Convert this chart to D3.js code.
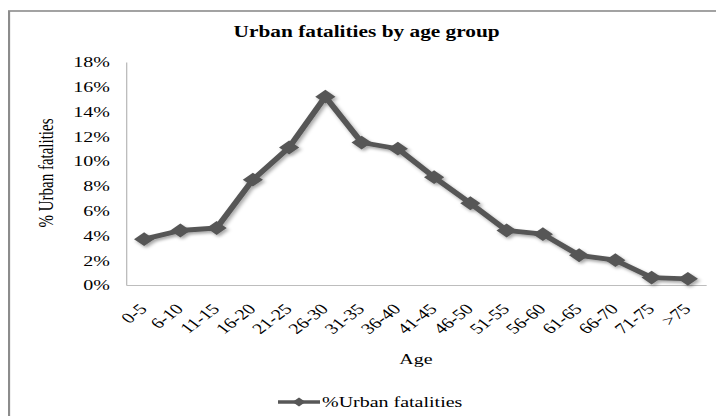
<!DOCTYPE html>
<html>
<head>
<meta charset="utf-8">
<script src="https://cdn.jsdelivr.net/npm/d3@7/dist/d3.min.js"></script>
<style>
  body { margin: 0; background: #fff; }
  svg text { font-family: "Liberation Serif", "Times New Roman", serif; fill: #000; }
</style>
</head>
<body>
<div id="chart"></div>
<script>
// categorias y valores
const ageGroups = ["0-5", "6-10", "11-15", "16-20", "21-25", "26-30", "31-35", "36-40",
  "41-45", "46-50", "51-55", "56-60", "61-65", "66-70", "71-75", ">75"];
const urbanPct = [3.7, 4.4, 4.6, 8.5, 11.1, 15.2, 11.5, 11.0, 8.7, 6.6, 4.4, 4.1, 2.4, 2.0, 0.6, 0.5];
const yTicks = [0, 2, 4, 6, 8, 10, 12, 14, 16, 18];

// la imagen original esta estirada en horizontal
const SX = 4 / 3;
const width = 716, height = 416;
const W = width / SX;
const margins = {left: 94.5, right: W - 529.5, top: 62, bottom: height - 285};
const innerW = W - margins.left - margins.right,
    innerH = height - margins.top - margins.bottom;

const root = d3.select("#chart").append("svg")
    .attr("width", width)
    .attr("height", height);

// sombra de la linea
const shadow = root.append("defs").append("filter").attr("id", "shadow")
    .attr("x", "-20%").attr("y", "-20%").attr("width", "140%").attr("height", "140%");
shadow.append("feDropShadow")
    .attr("dx", 1.5).attr("dy", 2).attr("stdDeviation", 1.4)
    .attr("flood-color", "#000").attr("flood-opacity", 0.35);

const svg = root.append("g").attr("transform", `scale(${SX}, 1)`);

// marco exterior
svg.append("rect")
    .attr("x", 6.8).attr("y", 11)
    .attr("width", W + 20).attr("height", height + 20)
    .attr("fill", "none").attr("stroke", "#8c8c8c").attr("stroke-width", 1.6);

svg.append("text")
    .attr("x", 275).attr("y", 37)
    .attr("text-anchor", "middle")
    .attr("font-size", 16).attr("font-weight", "bold")
    .text("Urban fatalities by age group");

const g = svg.append("g").attr("transform", `translate(${margins.left}, ${margins.top})`);

const x = d3.scaleBand().domain(ageGroups).range([0, innerW]);
const y = d3.scaleLinear().domain([0, 18]).range([innerH, 0]);

// eje y
const yAxis = d3.axisLeft(y).tickValues(yTicks).tickSize(0).tickPadding(12)
    .tickFormat(d => d + "%");
const gy = g.append("g").call(yAxis);
gy.select(".domain").attr("stroke", "#bdbdbd").attr("stroke-width", 1);
gy.selectAll("text").attr("font-size", 15).attr("font-family", "Liberation Serif");

// eje x
const xAxis = d3.axisBottom(x).tickSize(0).tickPadding(0);
const gx = g.append("g").attr("transform", `translate(0, ${innerH})`).call(xAxis);
gx.select(".domain").attr("stroke", "#bdbdbd").attr("stroke-width", 1.2);
gx.selectAll("text")
    .attr("font-size", 15).attr("font-family", "Liberation Serif")
    .attr("text-anchor", "end")
    .attr("dy", 0)
    .attr("transform", "translate(3, 25) rotate(-45)");

g.append("text")
    .attr("transform", `translate(${39.5 - margins.left}, ${173 - margins.top}) rotate(-90)`)
    .attr("text-anchor", "middle")
    .attr("font-size", 15)
    .text("% Urban fatalities");

svg.append("text")
    .attr("x", 312).attr("y", 364)
    .attr("text-anchor", "middle")
    .attr("font-size", 15)
    .text("Age");

// marcador en rombo
const diamondType = {
    draw(ctx, size) {
        const r = Math.sqrt(size) / 2;
        ctx.moveTo(0, -r);
        ctx.lineTo(r * 1.1, 0);
        ctx.lineTo(0, r);
        ctx.lineTo(-r * 1.1, 0);
        ctx.closePath();
    }
};

// linea y marcadores
const cx = d => x(d) + x.bandwidth() / 2;
const line = d3.line()
    .x((d, i) => cx(ageGroups[i]))
    .y(d => y(d));

const series = g.append("g").attr("filter", "url(#shadow)");
series.append("path")
    .datum(urbanPct)
    .attr("d", line)
    .attr("fill", "none")
    .attr("stroke", "#575757")
    .attr("stroke-width", 4.8)
    .attr("stroke-linejoin", "round");

series.selectAll(".marker")
    .data(urbanPct)
    .enter().append("path")
    .attr("class", "marker")
    .attr("d", d3.symbol().type(diamondType).size(190))
    .attr("transform", (d, i) => `translate(${cx(ageGroups[i])}, ${y(d)})`)
    .attr("fill", "#575757");

// leyenda
const lg = svg.append("g").attr("transform", "translate(208.5, 402)");
lg.append("line").attr("x1", 0).attr("x2", 31.5)
    .attr("stroke", "#575757").attr("stroke-width", 3.5);
lg.append("path").attr("d", d3.symbol().type(diamondType).size(80))
    .attr("transform", "translate(15.75, 0)").attr("fill", "#575757");
lg.append("text").attr("x", 33).attr("y", 5)
    .attr("font-size", 15)
    .text("%Urban fatalities");
</script>
</body>
</html>
